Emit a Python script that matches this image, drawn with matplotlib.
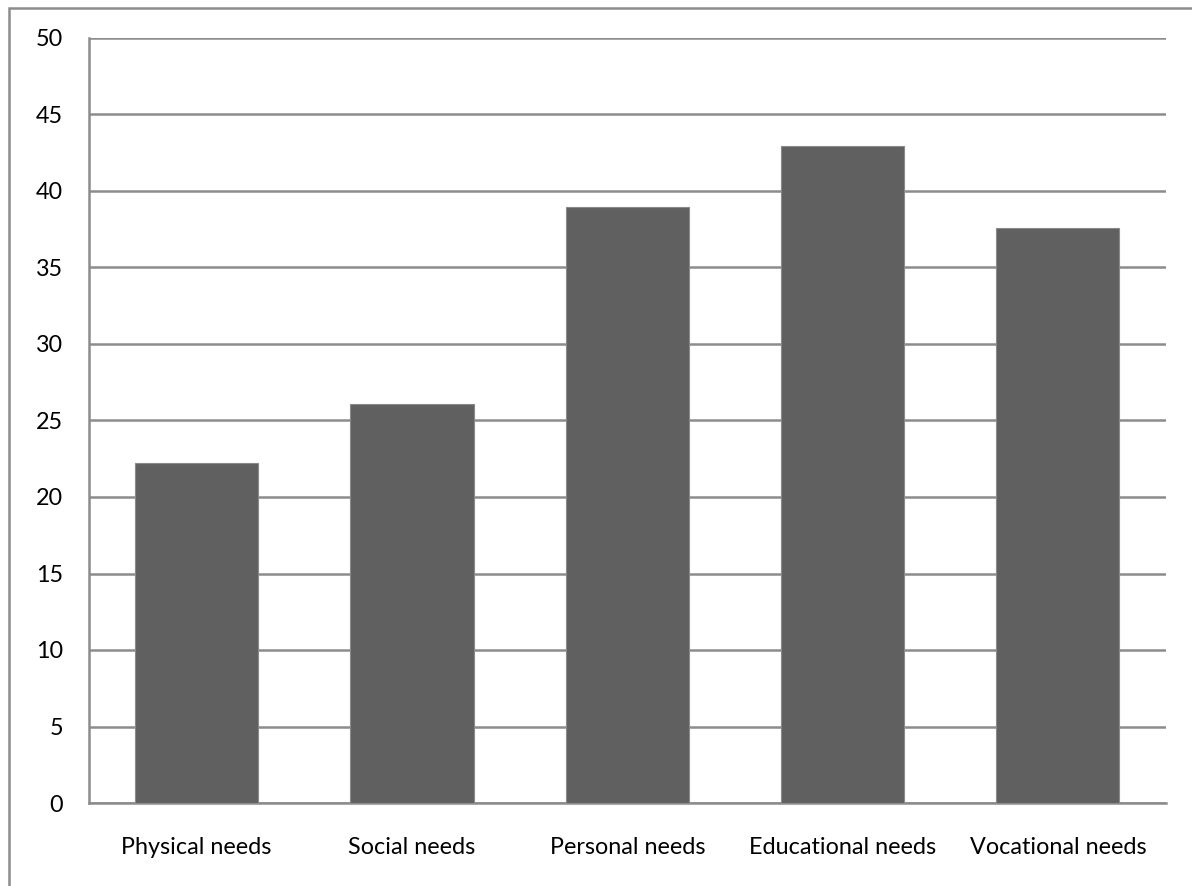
import matplotlib
matplotlib.use("Agg")
import matplotlib.pyplot as plt
from matplotlib.patches import Rectangle

categories = ["Physical needs", "Social needs", "Personal needs",
              "Educational needs", "Vocational needs"]
values = [22.2, 26.1, 38.95, 42.95, 37.6]
y_ticks = [0, 5, 10, 15, 20, 25, 30, 35, 40, 45, 50]

plt.rcParams['font.family'] = ['Lato', 'DejaVu Sans']

W, H = 1192, 886
fig = plt.figure(figsize=(W / 100, H / 100), dpi=100)
ax = fig.add_axes([89 / W, 1 - 803 / H, (1165.5 - 89) / W, (803 - 38) / H])

grid_col = "#8c8c8c"
x = range(len(categories))
ax.bar(x, values, width=0.572, color="#606060", edgecolor="#8a8a8a",
       linewidth=0.8, zorder=3)

ax.set_xlim(-0.5, len(categories) - 0.5)
ax.set_ylim(0, 50)
ax.set_yticks(y_ticks)
ax.set_yticklabels([str(t) for t in y_ticks])
ax.set_xticks(list(x))
ax.set_xticklabels(categories)
ax.tick_params(axis='both', length=0, labelsize=16.8, colors="black")
ax.tick_params(axis='y', pad=18.5)
ax.tick_params(axis='x', pad=24.5)

ax.yaxis.grid(True, color=grid_col, linewidth=1.8, zorder=0)
ax.set_axisbelow(True)
for side in ("top", "right"):
    ax.spines[side].set_visible(False)
for side in ("left", "bottom"):
    ax.spines[side].set_color(grid_col)
    ax.spines[side].set_linewidth(1.8)

# outer chart border (clipped by the image edge on the right and bottom)
fig.patches.append(Rectangle((8.5 / W, -0.1), 1.2, 1.1 - 8.5 / H,
                             transform=fig.transFigure, fill=False,
                             edgecolor="#8c8c8c", linewidth=1.8))

fig.savefig("out.png", dpi=100, facecolor="white")
